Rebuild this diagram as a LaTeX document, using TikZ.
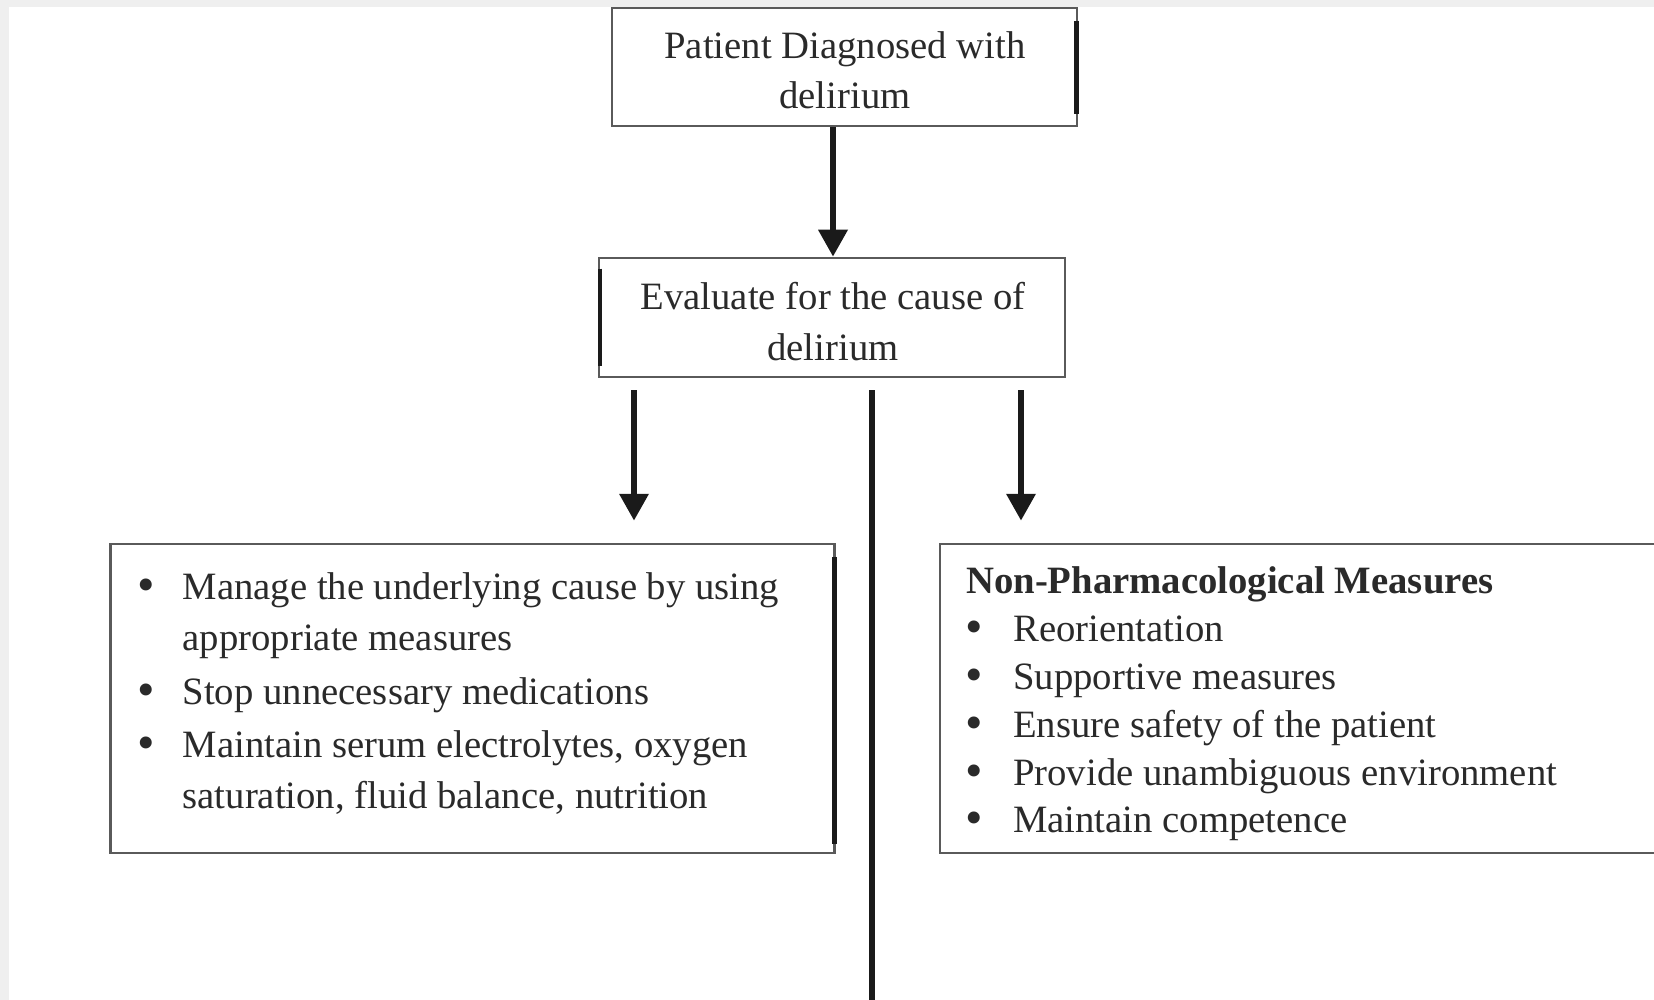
\documentclass[tikz,border=0pt]{standalone}
\usepackage{fontspec}
\setmainfont{Liberation Serif}
\usetikzlibrary{arrows.meta,calc}
\definecolor{txt}{HTML}{2A2A2A}
\definecolor{boxgray}{HTML}{5A5A5A}
\definecolor{bggray}{HTML}{EFEFEF}
\definecolor{ink}{HTML}{1A1A1A}
\begin{document}
\begin{tikzpicture}[x=1pt,y=-1pt,
  box/.style={draw=boxgray,line width=2.5pt,fill=white,rectangle,inner sep=0pt},
  txtline/.style={font=\fontsize{38.7}{46}\selectfont,text=txt,inner sep=0pt},
  bul/.style={font=\fontsize{50}{50}\selectfont,text=txt,inner sep=0pt,anchor=mid,yshift=-2pt},
  item/.style={txtline,anchor=mid west},
  arr/.style={draw=ink,line width=6.5pt,-{Triangle[length=27pt,width=28pt]}},
  bar/.style={draw=ink,line width=4.5pt},
]
\path[use as bounding box] (0,0) rectangle (1654,1000);
\clip (0,0) rectangle (1654,1000);
\fill[bggray] (0,0) rectangle (1654,1000);
\fill[white] (9,7) rectangle (1654,1000);

% boxes
\node[box,minimum width=465pt,minimum height=118pt] (top) at (844.5,67) {};
\node[box,minimum width=466pt,minimum height=119pt] (eval) at (832,317.5) {};
\node[box,minimum width=724pt,minimum height=309pt] (lbox) at (472.5,698.5) {};
\node[box,minimum width=760pt,minimum height=309pt] (rbox) at (1320,698.5) {};

% thick edge bars
\draw[bar] ([xshift=-2pt,yshift=-14pt]top.north east) -- ([xshift=-2pt,yshift=13pt]top.south east);
\draw[bar] ([xshift=2pt,yshift=-12pt]eval.north west) -- ([xshift=2pt,yshift=12pt]eval.south west);
\draw[bar] ([xshift=-1.5pt,yshift=-14pt]lbox.north east) -- ([xshift=-1.5pt,yshift=10pt]lbox.south east);

% texts
\node[txtline,anchor=mid] (t1) at (845,56.5) {Patient Diagnosed with};
\node[txtline,anchor=mid] (t2) at (845,106.5) {delirium};
\node[txtline,anchor=mid] (e1) at (833,307) {Evaluate for the cause of};
\node[txtline,anchor=mid] (e2) at (833,358) {delirium};

\node[bul] (lb1) at (146,597) {•};
\node[item] (l1) at (182.5,597) {Manage the underlying cause by using};
\node[item] (l2) at (182.5,648.5) {appropriate measures};
\node[bul] (lb2) at (146,702) {•};
\node[item] (l3) at (182.5,702) {Stop unnecessary medications};
\node[bul] (lb3) at (146,755.5) {•};
\node[item] (l4) at (182.5,755.5) {Maintain serum electrolytes, oxygen};
\node[item] (l5) at (182.5,806.5) {saturation, fluid balance, nutrition};

\node[item,font=\fontsize{38.7}{46}\selectfont\bfseries] (rh) at (966,591.5) {Non-Pharmacological Measures};
\node[bul] (rb1) at (974.5,639.5) {•};
\node[item] (r1) at (1013,639.5) {Reorientation};
\node[bul] (rb2) at (974.5,687) {•};
\node[item] (r2) at (1013,687) {Supportive measures};
\node[bul] (rb3) at (974.5,735.5) {•};
\node[item] (r3) at (1013,735.5) {Ensure safety of the patient};
\node[bul] (rb4) at (974.5,783) {•};
\node[item] (r4) at (1013,783) {Provide unambiguous environment};
\node[bul] (rb5) at (974.5,830.5) {•};
\node[item] (r5) at (1013,830.5) {Maintain competence};

% connectors
\draw[arr] ([xshift=-11.5pt]top.south) -- ([xshift=1pt]eval.north);
\coordinate (la) at (634,390);
\coordinate (ra) at (1021,390);
\coordinate (c1) at (872,390);
\coordinate (c2) at (872,1000);
\draw[arr] (la) -- ($(la |- lbox.north)+(0,-22)$);
\draw[arr] (ra) -- ($(ra |- rbox.north)+(0,-22)$);
\draw[draw=ink,line width=6.5pt] (c1) -- (c2);
\end{tikzpicture}
\end{document}
